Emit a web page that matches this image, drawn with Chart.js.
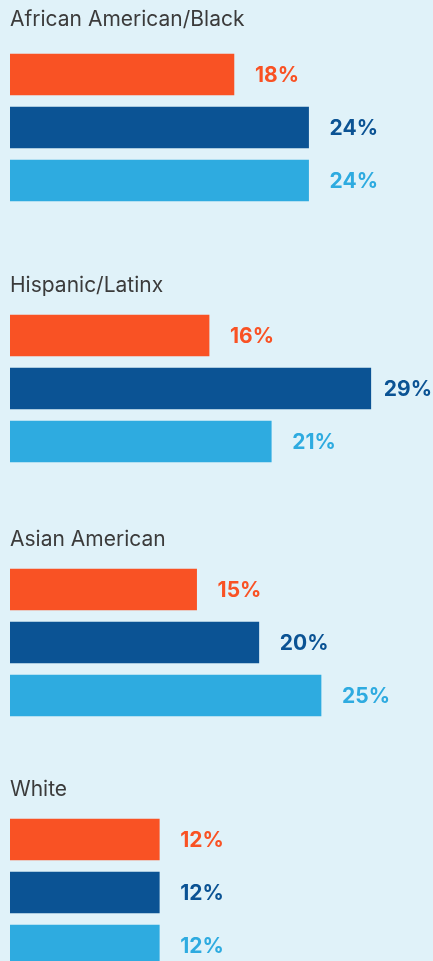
<!DOCTYPE html>
<html>
<head>
<meta charset="utf-8">
<title>Share by group</title>
<script src="https://cdn.jsdelivr.net/npm/chart.js@4.4.1/dist/chart.umd.min.js"></script>
<style>
  html, body {
    margin: 0;
    padding: 0;
    width: 433px;
    height: 961px;
    overflow: hidden;
    background: #e0f2f9;
  }
  .group {
    position: absolute;
    left: 0;
    width: 433px;
    height: 207px;
  }
</style>
</head>
<body>
<div class="group" id="g0"><canvas id="c0" width="433" height="207"></canvas></div>
<div class="group" id="g1"><canvas id="c1" width="433" height="207"></canvas></div>
<div class="group" id="g2"><canvas id="c2" width="433" height="207"></canvas></div>
<div class="group" id="g3"><canvas id="c3" width="433" height="207"></canvas></div>

<script>
// data
const groups = ['African American/Black', 'Hispanic/Latinx', 'Asian American', 'White'];
const seriesNames = ['Series 1', 'Series 2', 'Series 3'];
const seriesOrange = [18, 16, 15, 12];
const seriesNavy = [24, 29, 20, 12];
const seriesSky = [24, 21, 25, 12];

const barColors = ['#f95224', '#0b5394', '#2eabe0'];

// layout: where each block's bars start, and title spacing
const chartTops = [48, 309, 563, 813];
const titlePadTop = [7, 12, 12, 12];
const titleArea = 48;
const titleSize = 21;

// draws "NN%" to the right of each bar
const valueLabels = {
  id: 'valueLabels',
  afterDatasetsDraw(chart) {
    const ctx = chart.ctx;
    const area = chart.chartArea;
    const meta = chart.getDatasetMeta(0);
    const values = chart.data.datasets[0].data;
    ctx.save();
    ctx.font = 'bold 21px Inter';
    ctx.textBaseline = 'middle';
    ctx.textAlign = 'left';
    meta.data.forEach((bar, i) => {
      const text = values[i] + '%';
      const w = ctx.measureText(text).width;
      let x = bar.x + 21;
      if (x + w > area.right - 1) x = area.right - 1 - w;
      ctx.fillStyle = barColors[i];
      ctx.fillText(text, x, bar.y + 1);
    });
    ctx.restore();
  }
};

groups.forEach((name, i) => {
  document.getElementById('g' + i).style.top = (chartTops[i] - titleArea) + 'px';
  const ctx = document.getElementById('c' + i).getContext('2d');
  new Chart(ctx, {
    type: 'bar',
    data: {
      labels: seriesNames,
      datasets: [{
        data: [seriesOrange[i], seriesNavy[i], seriesSky[i]],
        backgroundColor: barColors,
        borderWidth: 0,
        barThickness: 41,
      }]
    },
    options: {
      indexAxis: 'y',
      responsive: false,
      animation: false,
      devicePixelRatio: 1,
      layout: {
        padding: { left: 10, right: 0, top: 0, bottom: 0 }
      },
      scales: {
        x: { display: false, min: 0, max: 34 },
        y: { display: false }
      },
      plugins: {
        legend: { display: false },
        tooltip: { enabled: false },
        title: {
          display: true,
          text: name,
          align: 'start',
          color: '#3b3b3b',
          font: { family: 'Inter', size: titleSize, weight: 'normal', lineHeight: 1.2 },
          padding: { top: titlePadTop[i], bottom: titleArea - titleSize * 1.2 - titlePadTop[i] }
        }
      }
    },
    plugins: [valueLabels]
  });
});
</script>
</body>
</html>
